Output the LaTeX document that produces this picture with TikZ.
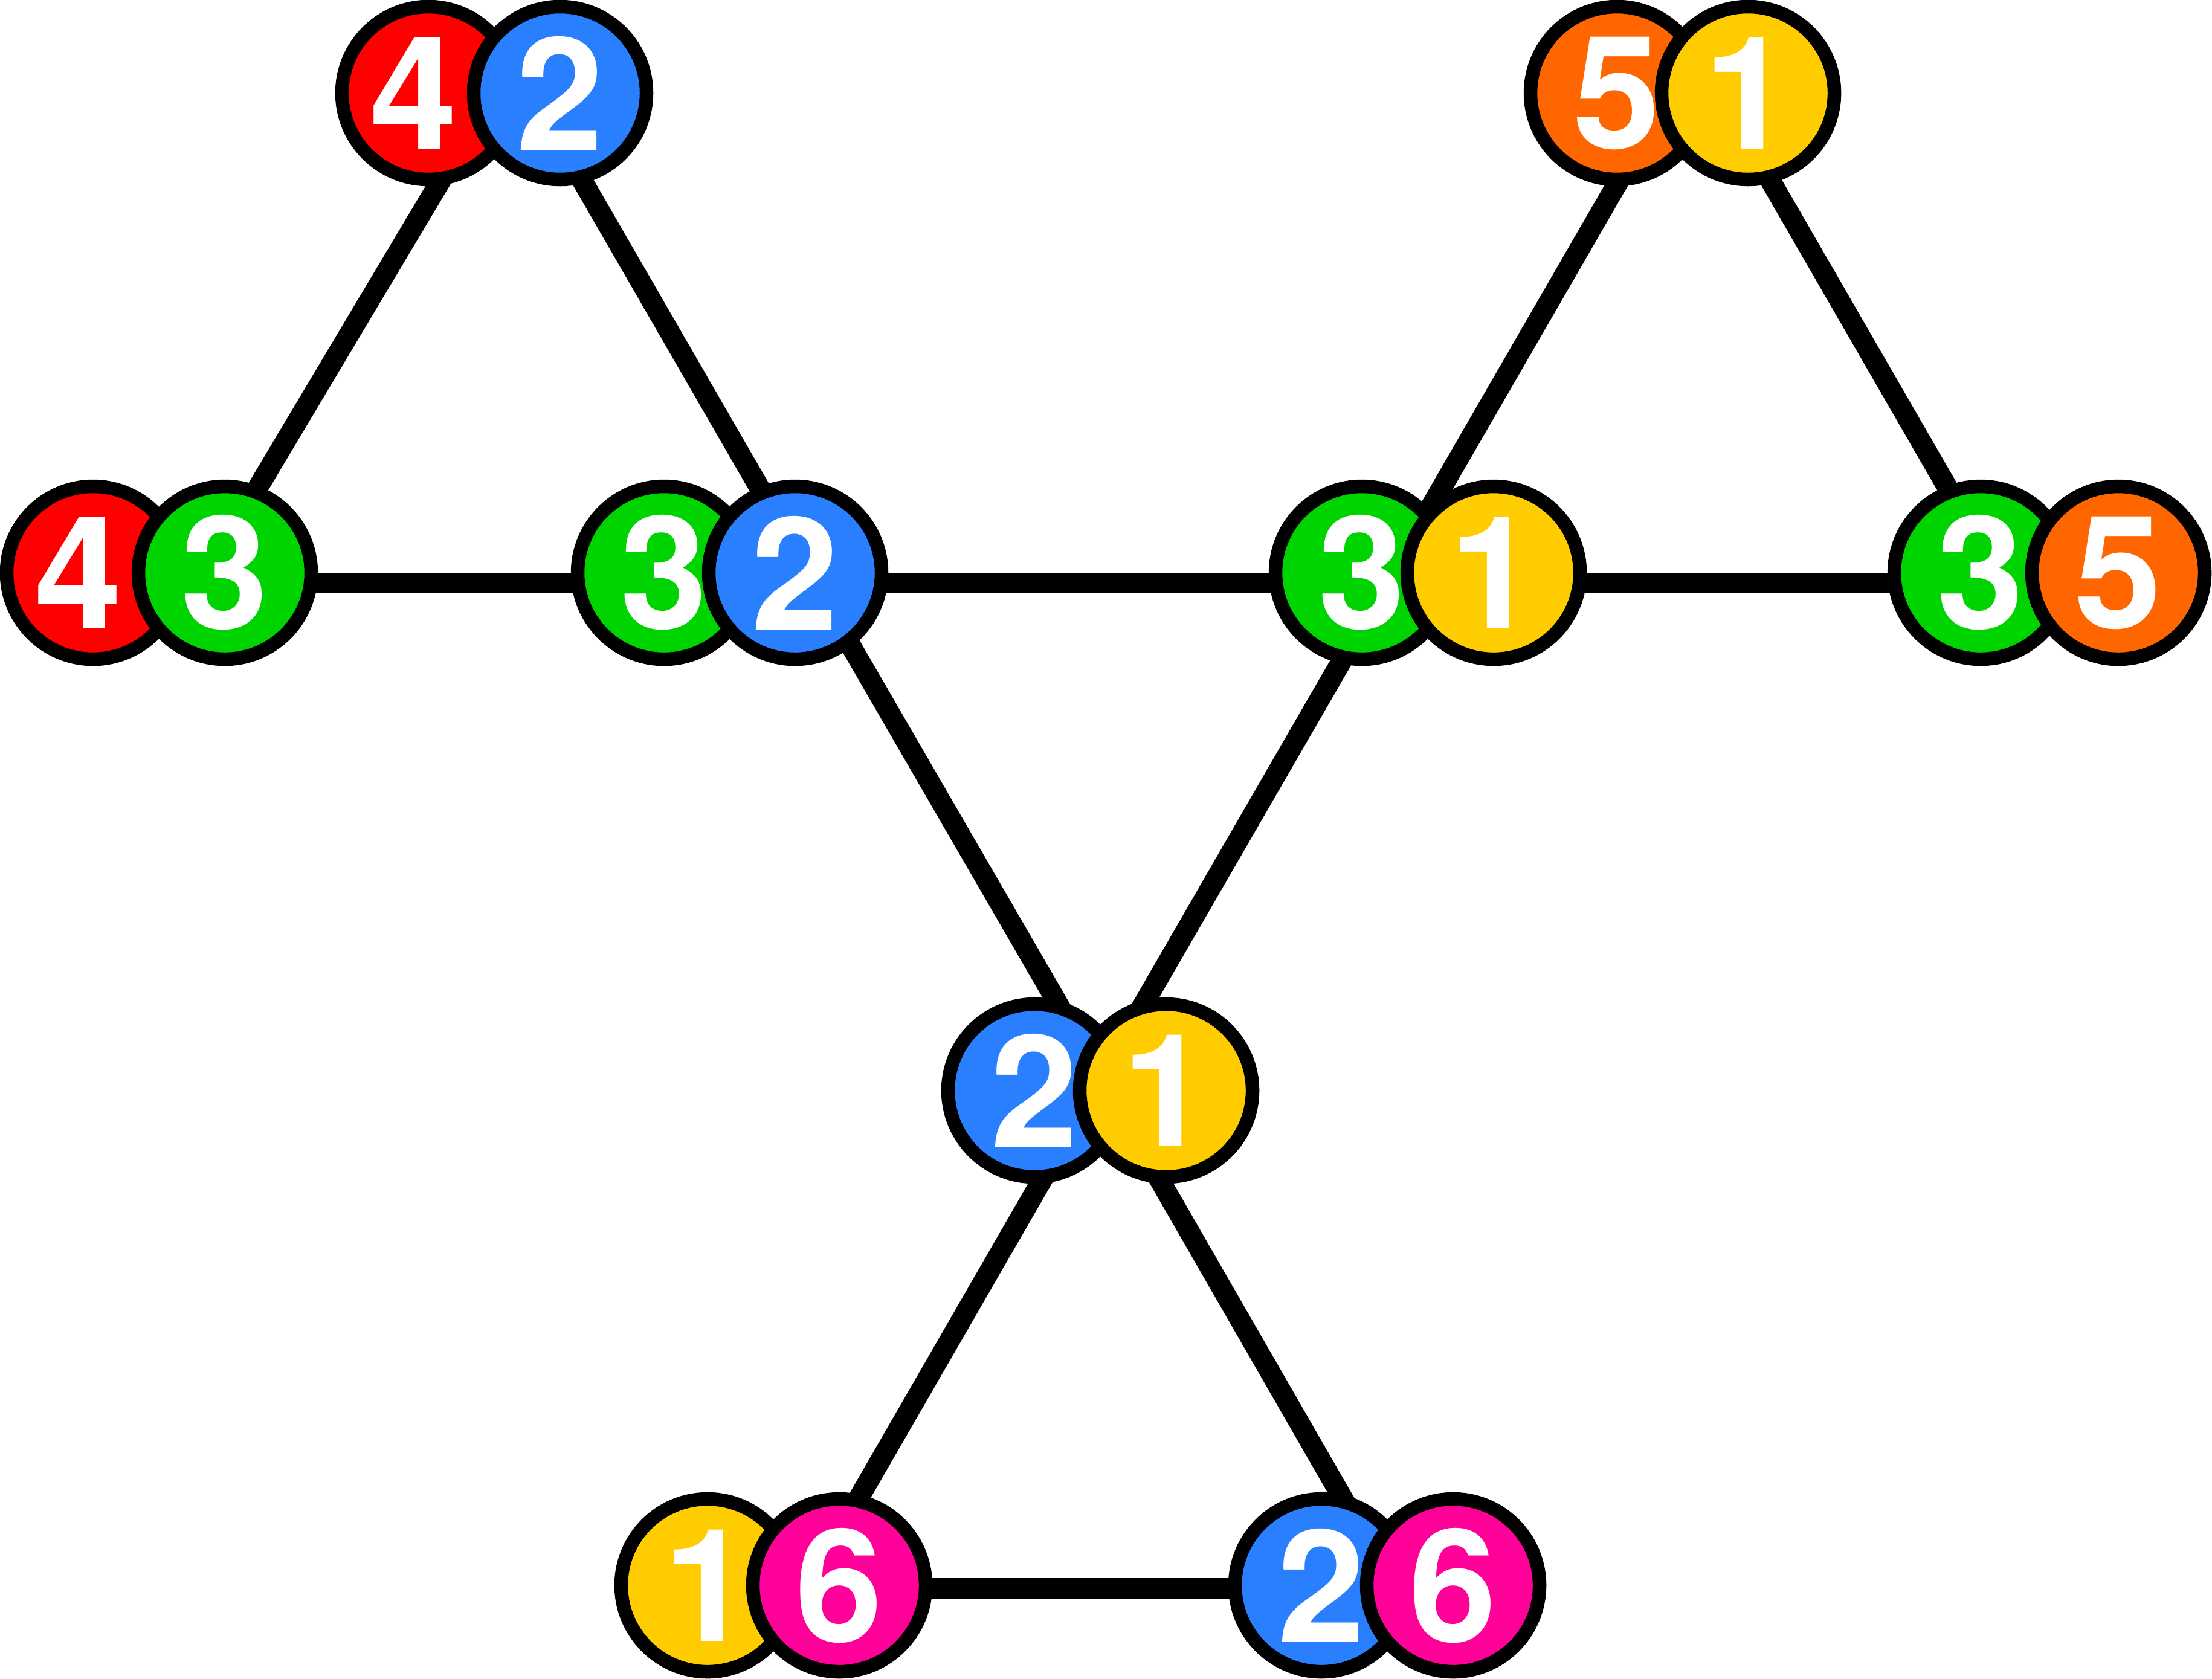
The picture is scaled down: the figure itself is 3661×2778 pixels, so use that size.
\documentclass[tikz,border=0pt]{standalone}
\usepackage{fontspec}
\setmainfont{TeX Gyre Heros}
\definecolor{cred}{HTML}{FF0000}
\definecolor{cblue}{HTML}{2A7FFF}
\definecolor{cgreen}{HTML}{00D400}
\definecolor{corange}{HTML}{FF6600}
\definecolor{cyellow}{HTML}{FFCC00}
\definecolor{cpink}{HTML}{FF0099}
\begin{document}
\begin{tikzpicture}[x=0.1pt,y=-0.1pt,
  disc/.style={circle,draw=black,line width=2.25pt,minimum size=28.6pt,inner sep=0pt,
    text=white,font=\fontsize{26pt}{26pt}\selectfont\bfseries},
  four/.style={execute at begin node={\hspace*{-4.8pt}}},
  edge/.style={draw=black,line width=3.4pt}]
\useasboundingbox (0,0) rectangle (3661,2778);
% junction points of the connectors (hidden under the discs)
\coordinate (T1) at (848.4,99.3);
\coordinate (T2) at (2804.8,81.8);
\coordinate (A) at (332.5,965);
\coordinate (B) at (1348,965);
\coordinate (C) at (2295,965);
\coordinate (D) at (3314.4,965);
\coordinate (E) at (1822,1784);
\coordinate (F) at (1335,2629);
\coordinate (G) at (2308,2629);
% connectors
\draw[edge] (A) -- (T1);
\draw[edge] (T1) -- (B);
\draw[edge] (C) -- (T2);
\draw[edge] (T2) -- (D);
\draw[edge] (A) -- (B);
\draw[edge] (B) -- (C);
\draw[edge] (C) -- (D);
\draw[edge] (B) -- (E);
\draw[edge] (C) -- (E);
\draw[edge] (E) -- (F);
\draw[edge] (E) -- (G);
\draw[edge] (F) -- (G);
% discs
\node[disc,fill=cred,four] (tlL) at (709,154)  {4};
\node[disc,fill=cblue]   (tlR) at (927,154)  {2};
\node[disc,fill=corange] (trL) at (2676,154) {5};
\node[disc,fill=cyellow] (trR) at (2893,154) {1};
\node[disc,fill=cred,four] (aL)  at (154,948)  {4};
\node[disc,fill=cgreen]  (aR)  at (372,948)  {3};
\node[disc,fill=cgreen]  (bL)  at (1099,948) {3};
\node[disc,fill=cblue]   (bR)  at (1316,948) {2};
\node[disc,fill=cgreen]  (cL)  at (2254,948) {3};
\node[disc,fill=cyellow] (cR)  at (2472,948) {1};
\node[disc,fill=cgreen]  (dL)  at (3278,948) {3};
\node[disc,fill=corange] (dR)  at (3506,948) {5};
\node[disc,fill=cblue]   (eL)  at (1712,1805) {2};
\node[disc,fill=cyellow] (eR)  at (1930,1805) {1};
\node[disc,fill=cyellow] (fL)  at (1171,2624) {1};
\node[disc,fill=cpink]   (fR)  at (1389,2624) {6};
\node[disc,fill=cblue]   (gL)  at (2187,2624) {2};
\node[disc,fill=cpink]   (gR)  at (2405,2624) {6};
\end{tikzpicture}
\end{document}
